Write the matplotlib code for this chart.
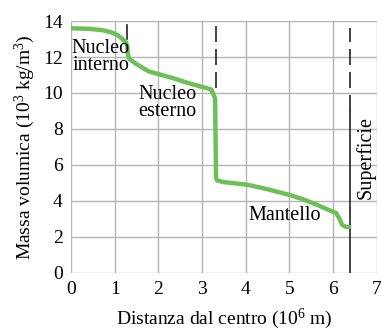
import matplotlib
matplotlib.use("Agg")
import matplotlib.pyplot as plt

# density profile of the Earth
distance = [0.0, 0.4, 0.7, 0.88, 1.0, 1.10, 1.18, 1.26, 1.29, 1.30, 1.33, 1.50, 1.78,
            2.30, 2.69, 2.91, 3.21, 3.30, 3.32, 3.34, 3.48, 4.04, 4.5, 5.01, 5.3,
            5.62, 5.85, 6.07, 6.14, 6.21, 6.30, 6.37]
density = [13.6, 13.57, 13.5, 13.4, 13.3, 13.15, 13.0, 12.8, 12.6, 12.2, 11.9, 11.6,
           11.2, 10.85, 10.55, 10.4, 10.2, 9.7, 5.3, 5.15, 5.05, 4.9, 4.65, 4.33,
           4.1, 3.8, 3.55, 3.33, 3.05, 2.67, 2.55, 2.55]

x_ticks = [0, 1, 2, 3, 4, 5, 6, 7]
y_ticks = [0, 2, 4, 6, 8, 10, 12, 14]

inner_core_r = 1.29
outer_core_r = 3.32
surface_r = 6.4

plt.rcParams['font.family'] = ['Liberation Serif', 'DejaVu Serif']
plt.rcParams['mathtext.default'] = 'regular'

fig = plt.figure(figsize=(3.82, 3.34), dpi=100)
ax = fig.add_axes([0.186, 0.183, 0.800, 0.754])

ax.set_xlim(0, 7)
ax.set_ylim(0, 14)
ax.set_xticks(x_ticks)
ax.set_yticks(y_ticks)
for s in ax.spines.values():
    s.set_visible(False)
ax.tick_params(length=0, labelsize=14, pad=6)
ax.grid(True, color='#b5b5b5', linewidth=1.0)
ax.set_axisbelow(True)

# boundaries
ax.plot([inner_core_r, inner_core_r], [13.0, 13.8], color='#222222', lw=1.2)
ax.plot([outer_core_r, outer_core_r], [10.3, 14.0], color='#222222', lw=1.2,
        dashes=(9.6, 4.2))
ax.plot([surface_r, surface_r], [9.0, 13.6], color='#222222', lw=1.2,
        dashes=(9.6, 4.2))
ax.plot([surface_r, surface_r], [0, 9.0], color='#222222', lw=1.2)

ax.plot(distance, density, color='#6cc057', lw=3.2, solid_capstyle='round',
        solid_joinstyle='round', zorder=3)

ax.text(0.68, 12.0, 'Nucleo\ninterno', fontsize=14.5, ha='center', va='center',
        linespacing=0.85)
ax.text(2.2, 9.45, 'Nucleo\nesterno', fontsize=14.5, ha='center', va='center',
        linespacing=0.85)
ax.text(4.9, 3.2, 'Mantello', fontsize=14.5, ha='center', va='center')
ax.text(6.74, 6.4, 'Superficie', fontsize=14.5, ha='center', va='center',
        rotation=90)

ax.set_xlabel('Distanza dal centro (10$^6$ m)', fontsize=14, labelpad=6)
ax.set_ylabel('Massa volumica (10$^3$ kg/m$^3$)', fontsize=14, labelpad=4)

fig.savefig('out.png', dpi=100)
